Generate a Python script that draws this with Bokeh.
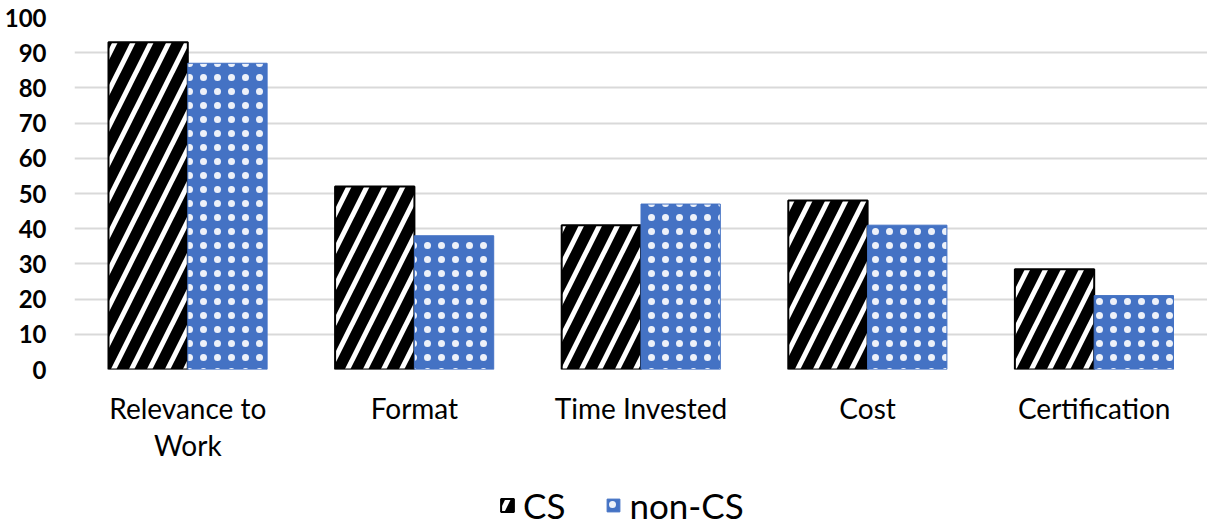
from bokeh.plotting import figure
from bokeh.layouts import column
from bokeh.models import ColumnDataSource, Legend, LegendItem, FactorRange, Range1d
from bokeh.core.properties import value
from bokeh.transform import dodge
from bokeh.embed import file_html
from bokeh.resources import INLINE

# Survey results: share of respondents (%) citing each factor
categories = ["Relevance to Work", "Format", "Time Invested", "Cost", "Certification"]
label_line1 = ["Relevance to", "Format", "Time Invested", "Cost", "Certification"]
label_line2 = ["Work", "", "", "", ""]
cs_values = [93, 52, 41, 48, 28.5]
non_cs_values = [87, 38, 47, 41, 21]
y_ticks = [0, 10, 20, 30, 40, 50, 60, 70, 80, 90, 100]

source = ColumnDataSource(data=dict(cat=categories, cs=cs_values, noncs=non_cs_values))
label_source = ColumnDataSource(data=dict(cat=categories, line1=label_line1, line2=label_line2))

# black bars with white diagonal stripes / blue bars with small white dots
CS_STYLE = dict(fill_color="black", line_color="black", line_width=2,
                hatch_pattern="/", hatch_color="white",
                hatch_weight=5, hatch_scale=36)
NONCS_STYLE = dict(fill_color="#4472C4", line_color="#4472C4", line_width=1,
                   hatch_pattern=".", hatch_color="white", hatch_alpha=0.9,
                   hatch_weight=1, hatch_scale=14)

# ---- bar chart ----
p = figure(
    x_range=FactorRange(*categories, range_padding=0),
    y_range=(0, 100),
    width=1207, height=385,
    output_backend="svg", toolbar_location=None,
    min_border_left=74, min_border_right=0, min_border_top=17,
    min_border_bottom=16,
    x_axis_location=None,
)
p.outline_line_color = None

p.vbar(x=dodge("cat", -0.175, range=p.x_range), top="cs", width=0.35,
       source=source, **CS_STYLE)
p.vbar(x=dodge("cat", 0.175, range=p.x_range), top="noncs", width=0.35,
       source=source, **NONCS_STYLE)

p.yaxis.ticker = y_ticks
p.yaxis.axis_line_color = None
p.yaxis.major_tick_line_color = None
p.yaxis.minor_tick_line_color = None
p.yaxis.major_label_text_font = "Lato"
p.yaxis.major_label_text_font_style = "bold"
p.yaxis.major_label_text_font_size = "24px"
p.yaxis.major_label_text_color = "black"
p.yaxis.major_label_standoff = 22

p.xgrid.grid_line_color = None
p.ygrid.grid_line_color = "#d9d9d9"
p.ygrid.grid_line_width = 2

# ---- category names and legend beneath the chart ----
q = figure(
    x_range=p.x_range, y_range=Range1d(142, 0),
    width=1207, height=142,
    output_backend="svg", toolbar_location=None,
    min_border_left=74, min_border_right=0, min_border_top=0, min_border_bottom=0,
    x_axis_location=None, y_axis_location=None,
)
q.outline_line_color = None
q.grid.grid_line_color = None

label_style = dict(text_align="center", text_baseline="alphabetic",
                   text_font=value("Lato"), text_font_size="28px", text_color="black")
q.text(x="cat", y=22, text="line1", source=label_source, **label_style)
q.text(x="cat", y=59, text="line2", source=label_source, **label_style)

# hidden copies of the bar series that supply the legend swatches
cs_key = q.vbar(x="cat", top="cs", width=0.35, source=source, visible=False, **CS_STYLE)
noncs_key = q.vbar(x="cat", top="noncs", width=0.35, source=source, visible=False, **NONCS_STYLE)

legend = Legend(
    items=[LegendItem(label="CS", renderers=[cs_key]),
           LegendItem(label="non-CS", renderers=[noncs_key])],
    orientation="horizontal", location=(425, 1),
    label_text_font="Lato", label_text_font_size="35px", label_text_color="black",
    glyph_width=16, glyph_height=16, spacing=40, label_standoff=8,
    border_line_color=None, background_fill_alpha=0,
    margin=0, padding=0,
)
q.add_layout(legend)

open("out.html", "w").write(file_html(column(p, q, spacing=0), INLINE))
